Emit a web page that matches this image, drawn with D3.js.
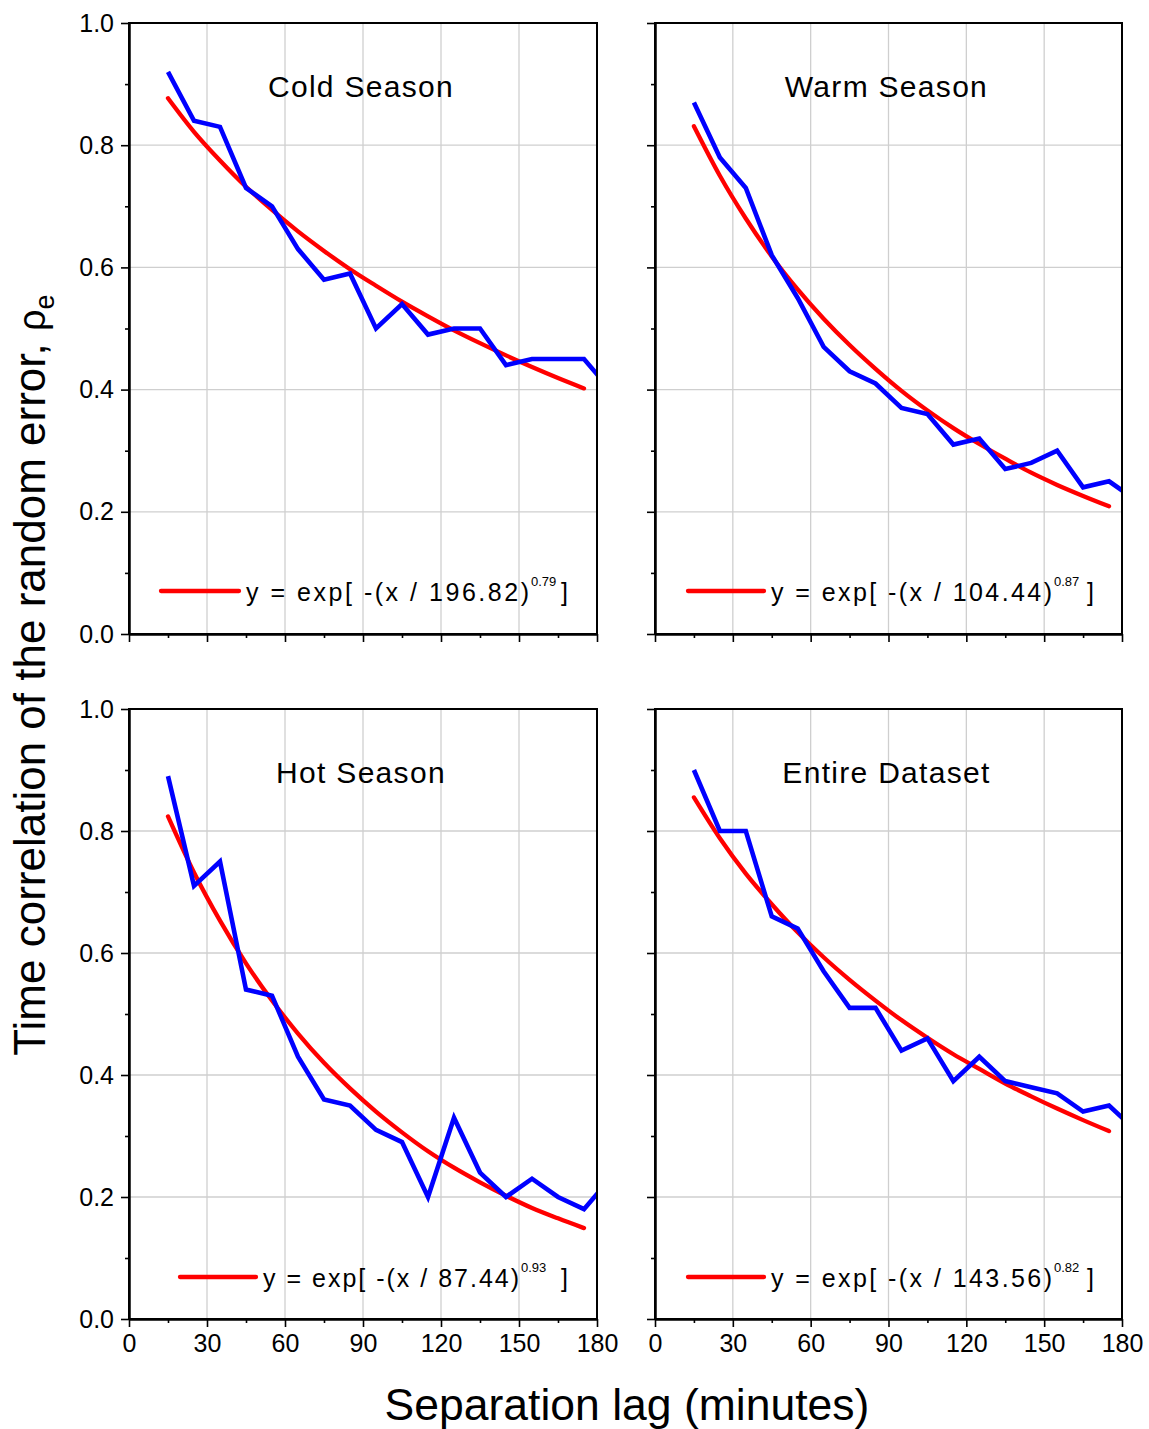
<!DOCTYPE html>
<html>
<head>
<meta charset="utf-8">
<script src="https://cdn.jsdelivr.net/npm/d3@7/dist/d3.min.js"></script>
<style>
  html, body { margin: 0; padding: 0; background: #fff; }
  svg { display: block; font-family: "Liberation Sans", Arial, sans-serif; }
</style>
</head>
<body>
<svg id="chart" width="1149" height="1429"></svg>
<script>
// ---------------- DATA ----------------
const xTickValues = [0, 30, 60, 90, 120, 150, 180];
const yTickValues = [0.0, 0.2, 0.4, 0.6, 0.8, 1.0];
const xMinorTicks = [15, 45, 75, 105, 135, 165];
const yMinorTicks = [0.1, 0.3, 0.5, 0.7, 0.9];

const panelTitles = ["Cold Season", "Warm Season", "Hot Season", "Entire Dataset"];

const lagsObserved = [15, 25, 35, 45, 55, 65, 75, 85, 95, 105, 115, 125, 135, 145, 155, 165, 175, 185];
const lagsFit      = [15, 25, 35, 45, 55, 65, 75, 85, 95, 105, 115, 125, 135, 145, 155, 165, 175];

const coldObserved   = [0.92, 0.84, 0.83, 0.73, 0.70, 0.63, 0.58, 0.59, 0.50, 0.54, 0.49, 0.50, 0.50, 0.44, 0.45, 0.45, 0.45, 0.40];
const warmObserved   = [0.87, 0.78, 0.73, 0.62, 0.55, 0.47, 0.43, 0.41, 0.37, 0.36, 0.31, 0.32, 0.27, 0.28, 0.30, 0.24, 0.25, 0.22];
const hotObserved    = [0.89, 0.71, 0.75, 0.54, 0.53, 0.43, 0.36, 0.35, 0.31, 0.29, 0.20, 0.33, 0.24, 0.20, 0.23, 0.20, 0.18, 0.23];
const entireObserved = [0.90, 0.80, 0.80, 0.66, 0.64, 0.57, 0.51, 0.51, 0.44, 0.46, 0.39, 0.43, 0.39, 0.38, 0.37, 0.34, 0.35, 0.31];

const coldFit   = [0.877, 0.822, 0.775, 0.732, 0.694, 0.659, 0.627, 0.597, 0.570, 0.544, 0.520, 0.497, 0.476, 0.456, 0.437, 0.419, 0.402];
const warmFit   = [0.831, 0.750, 0.680, 0.618, 0.564, 0.516, 0.473, 0.434, 0.398, 0.366, 0.337, 0.311, 0.287, 0.264, 0.244, 0.226, 0.209];
const hotFit    = [0.824, 0.732, 0.653, 0.583, 0.522, 0.468, 0.420, 0.378, 0.340, 0.306, 0.275, 0.248, 0.224, 0.202, 0.182, 0.165, 0.149];
const entireFit = [0.855, 0.788, 0.730, 0.680, 0.634, 0.593, 0.556, 0.522, 0.490, 0.461, 0.434, 0.410, 0.386, 0.365, 0.345, 0.326, 0.308];

const fitScale    = ["196.82", "104.44", "87.44", "143.56"];
const fitExponent = ["0.79", "0.87", "0.93", "0.82"];

const xAxisTitle = "Separation lag (minutes)";
const yAxisTitle = "Time correlation of the random error, ";

// ---------------- LAYOUT ----------------
const observedSeries = [coldObserved, warmObserved, hotObserved, entireObserved];
const fitSeries = [coldFit, warmFit, hotFit, entireFit];

const layout = [
  { x0: 129, x1: 597,  y0: 23,  y1: 634,  xLabels: false, yLabels: true,  legLine: 161, legText: 246, legTextEnd: 529, legBracket: 561 },
  { x0: 655, x1: 1122, y0: 23,  y1: 634,  xLabels: false, yLabels: false, legLine: 688, legText: 771, legTextEnd: 1052, legBracket: 1087 },
  { x0: 129, x1: 597,  y0: 709, y1: 1319, xLabels: true,  yLabels: true,  legLine: 180, legText: 263, legTextEnd: 519, legBracket: 561 },
  { x0: 655, x1: 1122, y0: 709, y1: 1319, xLabels: true,  yLabels: false, legLine: 688, legText: 771, legTextEnd: 1052, legBracket: 1087 }
];

const svg = d3.select("#chart");
const defs = svg.append("defs");

layout.forEach((p, i) => {
  const x = d3.scaleLinear().domain([0, 180]).range([p.x0, p.x1]);
  const y = d3.scaleLinear().domain([0, 1]).range([p.y1, p.y0]);
  const g = svg.append("g");

  defs.append("clipPath").attr("id", "clip" + i)
    .append("rect").attr("x", p.x0).attr("y", p.y0)
    .attr("width", p.x1 - p.x0).attr("height", p.y1 - p.y0);

  // grid
  g.append("g").selectAll("line").data(xTickValues.slice(1, -1)).join("line")
    .attr("x1", d => x(d)).attr("x2", d => x(d))
    .attr("y1", p.y0).attr("y2", p.y1)
    .attr("stroke", "#cfcfcf").attr("stroke-width", 1.3);
  g.append("g").selectAll("line").data(yTickValues.slice(1, -1)).join("line")
    .attr("y1", d => y(d)).attr("y2", d => y(d))
    .attr("x1", p.x0).attr("x2", p.x1)
    .attr("stroke", "#cfcfcf").attr("stroke-width", 1.3);

  // data lines
  const plot = g.append("g").attr("clip-path", `url(#clip${i})`);
  const line = d3.line().x(d => x(d[0])).y(d => y(d[1]));
  const smooth = d3.line().x(d => x(d[0])).y(d => y(d[1])).curve(d3.curveMonotoneX);

  plot.append("path")
    .datum(lagsFit.map((l, k) => [l, fitSeries[i][k]]))
    .attr("d", smooth)
    .attr("fill", "none").attr("stroke", "#ff0000").attr("stroke-width", 4.3)
    .attr("stroke-linecap", "round");

  plot.append("path")
    .datum(lagsObserved.map((l, k) => [l, observedSeries[i][k]]))
    .attr("d", line)
    .attr("fill", "none").attr("stroke", "#0000ff").attr("stroke-width", 4.6)
    .attr("stroke-linejoin", "miter").attr("stroke-linecap", "butt");

  // frame
  g.append("rect").attr("x", p.x0).attr("y", p.y0)
    .attr("width", p.x1 - p.x0).attr("height", p.y1 - p.y0)
    .attr("fill", "none").attr("stroke", "#000").attr("stroke-width", 2);

  // axes
  const xMajor = d3.axisBottom(x).tickValues(xTickValues).tickSize(8).tickSizeOuter(0).tickPadding(7)
    .tickFormat(p.xLabels ? d3.format("d") : () => "");
  const xMinor = d3.axisBottom(x).tickValues(xMinorTicks).tickSize(4).tickSizeOuter(0).tickFormat(() => "");
  const yMajor = d3.axisLeft(y).tickValues(yTickValues).tickSize(8).tickSizeOuter(0).tickPadding(7)
    .tickFormat(p.yLabels ? d3.format(".1f") : () => "");
  const yMinor = d3.axisLeft(y).tickValues(yMinorTicks).tickSize(4).tickSizeOuter(0).tickFormat(() => "");

  [[xMajor, `translate(0,${p.y1})`], [xMinor, `translate(0,${p.y1})`],
   [yMajor, `translate(${p.x0},0)`], [yMinor, `translate(${p.x0},0)`]].forEach(([ax, tr]) => {
    const a = g.append("g").attr("transform", tr).call(ax);
    a.select(".domain").attr("stroke", "#000").attr("stroke-width", 2);
    a.selectAll(".tick line").attr("stroke", "#000").attr("stroke-width", 1.6);
    a.selectAll(".tick text").attr("fill", "#000")
      .style("font-size", "25px").style("font-family", "'Liberation Sans', Arial, sans-serif");
  });

  // title
  g.append("text")
    .attr("x", (p.x0 + p.x1) / 2 - 2).attr("y", p.y0 + 74)
    .attr("text-anchor", "middle")
    .style("font-size", "30px").style("letter-spacing", "1.3px")
    .attr("fill", "#000")
    .text(panelTitles[i]);

  // legend
  const ly = p.y0 + 568;
  g.append("line").attr("x1", p.legLine).attr("x2", p.legText - 7)
    .attr("y1", ly).attr("y2", ly)
    .attr("stroke", "#ff0000").attr("stroke-width", 4.3).attr("stroke-linecap", "round");
  const base = ly + 10;
  g.append("text").attr("x", p.legText).attr("y", base)
    .attr("textLength", p.legTextEnd - p.legText).attr("lengthAdjust", "spacing")
    .style("font-size", "25px").attr("fill", "#000")
    .text(`y = exp[ -(x / ${fitScale[i]})`);
  g.append("text").attr("x", p.legTextEnd + 2).attr("y", base - 15)
    .style("font-size", "13px").attr("fill", "#000")
    .text(fitExponent[i]);
  g.append("text").attr("x", p.legBracket).attr("y", base)
    .style("font-size", "25px").attr("fill", "#000")
    .text("]");
});

// axis titles
svg.append("text")
  .attr("x", 627).attr("y", 1420)
  .attr("text-anchor", "middle")
  .style("font-size", "44.5px").attr("fill", "#000")
  .text(xAxisTitle);

const yt = svg.append("text")
  .attr("transform", "translate(45,675) rotate(-90)")
  .attr("text-anchor", "middle")
  .style("font-size", "44px").attr("fill", "#000");
yt.append("tspan").text(yAxisTitle);
yt.append("tspan").style("font-size", "38px").text("ρ");
yt.append("tspan").attr("dy", 9).style("font-size", "27px").text("e");
</script>
</body>
</html>
